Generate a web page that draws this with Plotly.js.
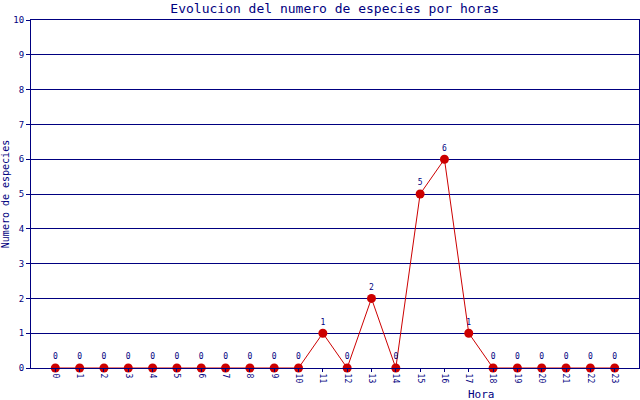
<!DOCTYPE html>
<html><head><meta charset="utf-8">
<script src="https://cdn.plot.ly/plotly-3.0.1.min.js"></script>
<style>html,body{margin:0;padding:0;background:#fff}#c{width:640px;height:400px}</style>
</head><body><div id="c"></div>
<script>
const hours = [0,1,2,3,4,5,6,7,8,9,10,11,12,13,14,15,16,17,18,19,20,21,22,23];
const species = [0,0,0,0,0,0,0,0,0,0,0,1,0,2,0,5,6,1,0,0,0,0,0,0];
const yTicks = [0,1,2,3,4,5,6,7,8,9,10];
const navy = '#000080';
const font = 'DejaVu Sans Mono, monospace';
Plotly.newPlot('c', [{
  x: hours, y: species, type: 'scatter', mode: 'lines+markers+text',
  line: {color: '#cc0000', width: 1},
  marker: {color: '#cc0000', size: 9},
  text: species.map(String), textposition: 'top center',
  textfont: {family: font, size: 8, color: navy},
  cliponaxis: false, hoverinfo: 'none'
}], {
  width: 640, height: 400,
  margin: {l: 31, r: 1, t: 20, b: 32},
  paper_bgcolor: '#fff', plot_bgcolor: '#fff',
  showlegend: false,
  title: {text: 'Evolucion del numero de especies por horas', x: 0.523, xanchor: 'center', y: 0.978, yanchor: 'middle',
    font: {family: font, size: 13, color: navy}},
  xaxis: {range: [-1, 24], tickvals: hours, ticktext: hours.map(String), tickangle: 90,
    tickfont: {family: font, size: 8, color: navy}, ticks: 'outside', ticklen: 3, tickcolor: navy,
    showgrid: false, zeroline: false, showline: true, linecolor: navy, linewidth: 1, mirror: true, fixedrange: true},
  yaxis: {range: [0, 10], tickvals: yTicks, ticktext: yTicks.map(String),
    tickfont: {family: font, size: 9, color: navy}, ticks: 'outside', ticklen: 4, tickcolor: navy,
    showgrid: true, gridcolor: navy, gridwidth: 1, zeroline: false, showline: true, linecolor: navy, linewidth: 1, mirror: true,
    title: {text: 'Numero de especies', font: {family: font, size: 10, color: navy}, standoff: 6}, fixedrange: true},
  annotations: [{text: 'Hora', xref: 'paper', yref: 'paper', x: 0.741, y: -0.075, xanchor: 'center', yanchor: 'middle', showarrow: false,
    font: {family: font, size: 11, color: navy}}]
}, {staticPlot: true});
</script></body></html>
